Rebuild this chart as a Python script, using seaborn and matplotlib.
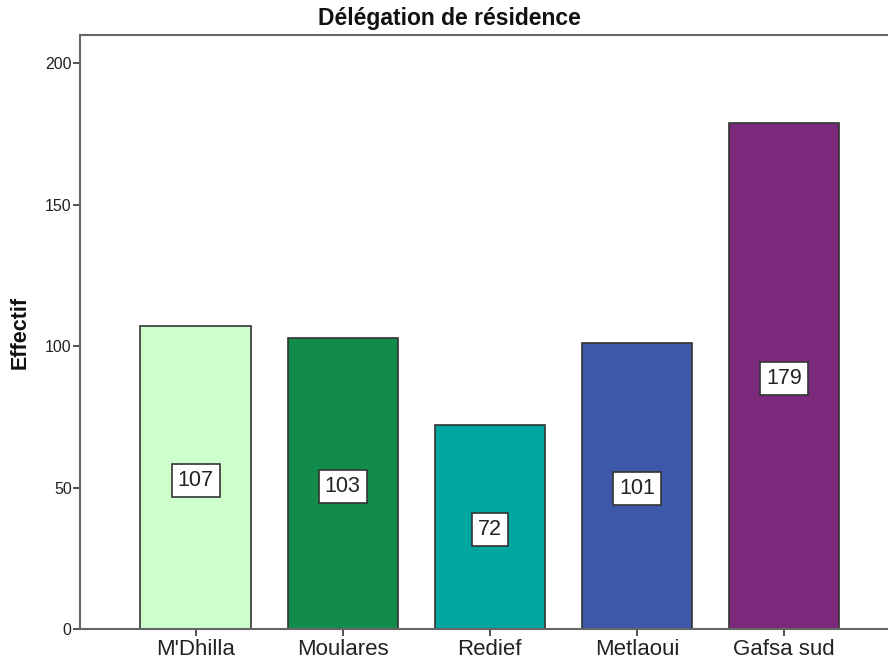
import matplotlib
matplotlib.use("Agg")
import matplotlib.pyplot as plt
import seaborn as sns
import pandas as pd

# Data
categories = ["M'Dhilla", "Moulares", "Redief", "Metlaoui", "Gafsa sud"]
counts = [107, 103, 72, 101, 179]
bar_colors = ["#CCFFCC", "#118C4A", "#00A6A0", "#3D57A9", "#7B2A7B"]

sns.set_theme(style="white")
plt.rcParams['font.family'] = ['Liberation Sans', 'DejaVu Sans']

df = pd.DataFrame({"Délégation": categories, "Effectif": counts})

fig = plt.figure(figsize=(8.88, 6.69), dpi=100)
ax = fig.add_axes([80 / 888, 40 / 669, 1 - 80 / 888, 594 / 669])

sns.barplot(data=df, x="Délégation", y="Effectif", hue="Délégation",
            palette=bar_colors, legend=False, width=0.75,
            edgecolor="#333333", linewidth=1.2, ax=ax, saturation=1)

# value labels in the middle of each bar
for i, v in enumerate(counts):
    ax.annotate(str(v), xy=(i, v / 2), xytext=(0, -2), textcoords="offset points",
                ha="center", va="center", fontsize=15.5, color="#222222",
                bbox=dict(boxstyle="square,pad=0.28", fc="white", ec="#333333", lw=1.2))

ax.set_xlim(-0.786, 4.707)
ax.set_ylim(0, 210)
ax.set_yticks([0, 50, 100, 150, 200])
ax.set_xlabel("")
ax.set_ylabel("")

fig.text(449 / 888, 1 - 19 / 669, "Délégation de résidence", ha="center", va="center",
         fontsize=16.5, fontweight="bold", color="#111111")
fig.text(20 / 888, 0.5 * (1 + 40 / 669 - 35 / 669), "Effectif", rotation=90,
         ha="center", va="center", fontsize=15.5, fontweight="bold", color="#111111")

for s in ["left", "top", "bottom"]:
    ax.spines[s].set_color("#666666")
    ax.spines[s].set_linewidth(1.5)
ax.spines["right"].set_visible(False)

ax.tick_params(axis="y", length=5, width=1.2, color="#333333", labelsize=11.5, pad=1, left=True)
ax.tick_params(axis="x", length=5, width=1.2, color="#333333", labelsize=16, pad=2, bottom=True)
for lab in ax.get_xticklabels() + ax.get_yticklabels():
    lab.set_color("#222222")

fig.savefig("out.png", dpi=100)
